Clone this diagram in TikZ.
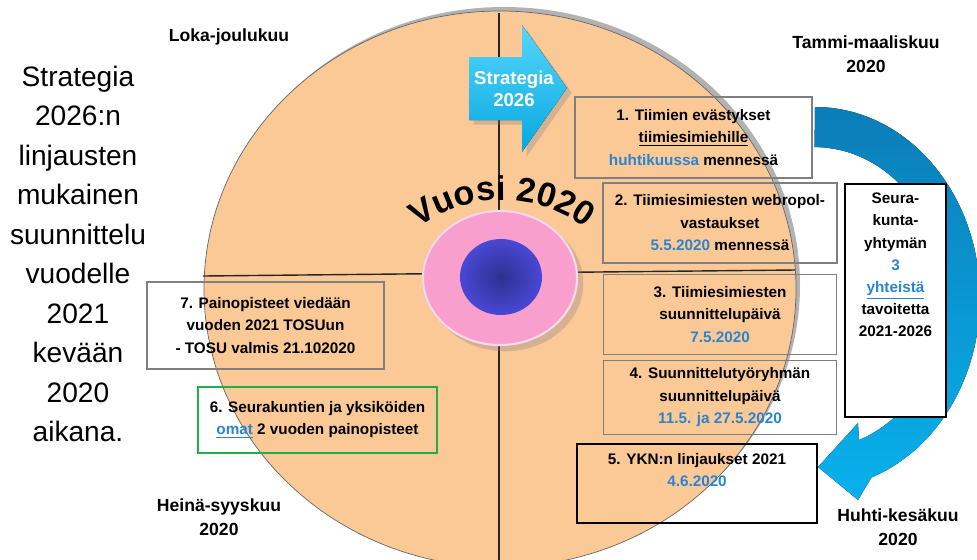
\documentclass[tikz,border=0pt]{standalone}
\usepackage{fontspec}
\setmainfont{Liberation Sans}
\usepackage{xcolor}
\usetikzlibrary{positioning,decorations.text,shadows}
\definecolor{peach}{HTML}{FBC996}
\definecolor{tblue}{HTML}{2A84D2}
\definecolor{arcdark}{HTML}{0B7DB8}
\definecolor{arclight}{HTML}{08B1EC}
\definecolor{cyantop}{HTML}{55D6FB}
\definecolor{cyanbot}{HTML}{08A8E2}
\definecolor{pinkc}{HTML}{F89FCD}
\definecolor{navyin}{HTML}{30308E}
\definecolor{navyout}{HTML}{4848D6}
\definecolor{boxgray}{HTML}{7F7F7F}
\definecolor{grbox}{HTML}{22AD4B}
\newcommand{\bl}[1]{\textcolor{tblue}{#1}}

\begin{document}
\begin{tikzpicture}[x=0.02cm,y=0.02cm,
  phase/.style={rectangle,draw=boxgray,line width=0.7pt,align=center,inner sep=0pt,font=\fontsize{8.7}{12.8}\selectfont\bfseries},
  kbox/.style={rectangle,draw=black,line width=1.5pt,inner sep=0pt},
  ktext/.style={align=center,inner sep=0pt,font=\fontsize{8.7}{12.6}\selectfont\bfseries},
  season/.style={align=center,font=\fontsize{10}{13.5}\selectfont\bfseries}
]
\useasboundingbox (0,0) rectangle (977,-559);
\fill[black!30] (504,-285) ellipse [x radius=296, y radius=278];
\filldraw[fill=peach,draw=black!60,line width=0.4pt] (500,-289) ellipse [x radius=296, y radius=278];
\draw[line width=0.8pt,black!85] (499,-13) -- (499,-567);
\draw[line width=0.8pt,black!85] (203,-276) -- (795,-270);
\fill[pinkc,drop shadow={shadow xshift=3pt,shadow yshift=-3pt,opacity=0.3}] (500,-278) ellipse [x radius=78, y radius=68];
\draw[pinkc!40!white,line width=1.2pt] (500,-278) ellipse [x radius=77, y radius=67];
\shade[inner color=navyin,outer color=navyout] (501,-277) ellipse [x radius=41, y radius=38];
\path[decorate,decoration={text along path,text align=center,
  text={|\fontsize{19.5}{19.5}\selectfont\bfseries|Vuosi 2020}}]
  (502,-340) ++(130:140) arc[start angle=130, end angle=50, radius=140];

\fill[top color=cyantop,bottom color=cyanbot,drop shadow={opacity=0.3}]
  (469,-57) -- (522,-57) -- (522,-25) -- (567,-88) -- (522,-152) -- (522,-120) -- (469,-120) -- cycle;
\node[white,align=center,font=\fontsize{10.6}{12.5}\selectfont\bfseries] (strat) at (514,-89) {Strategia\\2026};

\fill[top color=arcdark,bottom color=arclight]
  (815,-107) arc[start angle=90, end angle=-70, x radius=165, y radius=191]
  -- (858,-500) -- (818,-467) -- (858,-423) -- (859,-440)
  arc[start angle=-70, end angle=90, x radius=130, y radius=151] -- cycle;

\node[phase,minimum width=4.74cm,minimum height=1.62cm] (b1) at (693.5,-137.5) {1. Tiimien evästykset\\\underline{tiimiesimiehille}\\\bl{huhtikuussa} mennessä};
\node[phase,minimum width=4.68cm,minimum height=1.60cm] (b2) at (720,-223) {2. Tiimiesimiesten webropol-\\vastaukset\\\bl{5.5.2020} mennessä};
\node[phase,minimum width=4.66cm,minimum height=1.60cm,below=0.2cm of b2] (b3) {3. Tiimiesimiesten\\suunnittelupäivä\\\bl{7.5.2020}};
\node[phase,minimum width=4.66cm,minimum height=1.48cm,below=0.1cm of b3] (b4) {4. Suunnittelutyöryhmän\\suunnittelupäivä\\\bl{11.5. ja 27.5.2020}};
\node[kbox,minimum width=4.80cm,minimum height=1.58cm] (b5) at (697,-483.5) {};
\node[ktext,below=0.2cm of b5.north] (b5t) {5. YKN:n linjaukset 2021\\\bl{4.6.2020}};
\node[kbox,fill=white,minimum width=2.02cm,minimum height=4.66cm] (seura) at (895.5,-300.5) {};
\node[ktext,below=0.2cm of seura.north] (seurat) {Seura-\\kunta-\\yhtymän\\\bl{3}\\\bl{\underline{yhteistä}}\\tavoitetta\\2021-2026};
\node[phase,minimum width=4.74cm,minimum height=1.74cm] (b7) at (265.5,-325.5) {7. Painopisteet viedään\\vuoden 2021 TOSUun\\- TOSU valmis 21.102020};
\node[phase,draw=grbox,line width=1.3pt,minimum width=4.78cm,minimum height=1.32cm] (b6) at (317.5,-420) {6. Seurakuntien ja yksiköiden\\\bl{\underline{omat}} 2 vuoden painopisteet};

\node[season] (q4) at (229,-37) {Loka-joulukuu};
\node[season] (q1) at (866,-54) {Tammi-maaliskuu\\2020};
\node[season] (q3) at (219,-517) {Heinä-syyskuu\\2020};
\node[season] (q2) at (898,-527) {Huhti-kesäkuu\\2020};
\node[align=center,font=\fontsize{16}{22.5}\selectfont] (lefttxt) at (78,-254) {Strategia\\2026:n\\linjausten\\mukainen\\suunnittelu\\vuodelle\\2021\\kevään\\2020\\aikana.};
\end{tikzpicture}
\end{document}
